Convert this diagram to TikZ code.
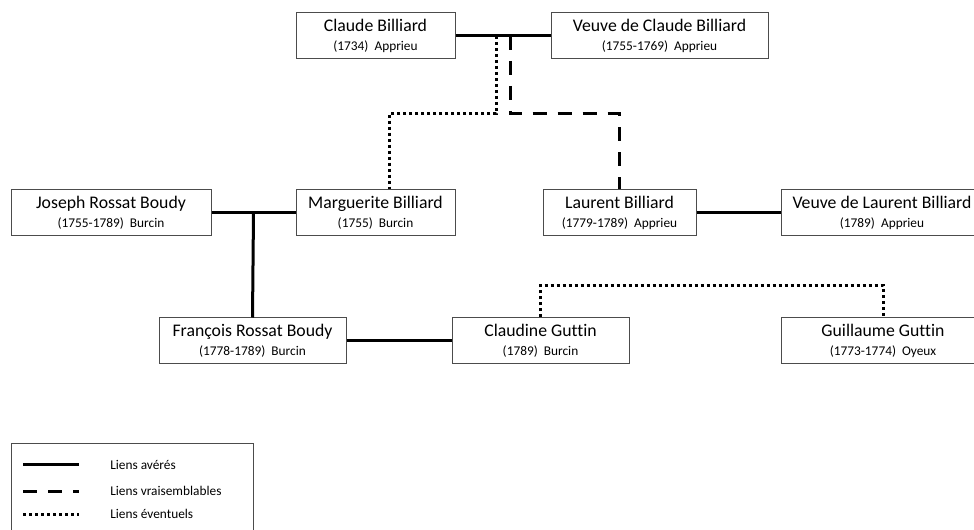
\documentclass[tikz,border=0pt]{standalone}
\usepackage{fontspec}
\setmainfont{Carlito}[Ligatures=NoCommon]
\usetikzlibrary{calc}
\tikzset{
	pers/.style={draw=black!70,line width=.75pt,minimum height=34.5pt,inner sep=0pt,align=center,
		font=\fontsize{13.3}{15}\selectfont},
	avere/.style={line width=2.25pt},
	vraisemblable/.style={line width=2.25pt,dash pattern=on 10.5pt off 8.25pt},
	eventuel/.style={line width=2.25pt,dash pattern=on 2.25pt off 2.25pt},
	legende/.style={anchor=west,inner sep=0pt,font=\fontsize{10}{12}\selectfont}
}
\begin{document}
\begin{tikzpicture}[x=.75pt,y=-.75pt]
	\useasboundingbox (0,0) rectangle (974,530);
	% les personnes
	\foreach \n/\cx/\cy/\w/\nom/\dat in {
		cb/375.5/36/159/Claude Billiard/(1734)~~Apprieu,
		vcb/659.5/36/217/Veuve de Claude Billiard/(1755-1769)~~Apprieu,
		jrb/111/213/200/Joseph Rossat Boudy/(1755-1789)~~Burcin,
		mb/375.5/213/159/Marguerite Billiard/(1755)~~Burcin,
		lb/619.5/213/153/Laurent Billiard/(1779-1789)~~Apprieu,
		vlb/882/213/202/Veuve de Laurent Billiard/(1789)~~Apprieu,
		frb/252.5/341/187/François Rossat Boudy/(1778-1789)~~Burcin,
		cg/540.5/341/177/Claudine Guttin/(1789)~~Burcin,
		gg/883/341/204/Guillaume Guttin/(1773-1774)~~Oyeux}{
		\node[pers,minimum width=\w*.75pt] (\n) at (\cx,\cy) {\nom\\[-.5pt]{\fontsize{10}{12}\selectfont\dat}};
	}
	% les liens
	\draw[avere] (cb)--(vcb) (jrb)--(mb) (lb)--(vlb) (frb)--(cg);
	\path ($(cb.east)!.43!(vcb.west)$) coordinate (u1)
		($(cb.east)!.58!(vcb.west)$) coordinate (u2)
		($(jrb.east)!.5!(mb.west)$) coordinate (u3);
	\draw[avere] (u3)--(frb.north);
	\draw[eventuel] (u1)--++(0,78) -| ([xshift=10.125pt]mb.north);
	\draw[vraisemblable] (u2)--++(0,78) -| (lb.north);
	\draw[eventuel] (cg.north)--++(0,-32) -| (gg.north);
	% legende
	\draw[black!70,line width=.75pt] (11,540)--(11,444)--(253,444)--(253,540);
	\foreach \k/\yy/\st/\t in {1/465/avere/Liens avérés,2/491/vraisemblable/Liens vraisemblables,3/514/eventuel/Liens éventuels}{
		\path (23,\yy) coordinate (l\k a) (79,\yy) coordinate (l\k b);
		\draw[\st] (l\k a)--(l\k b);
		\node[legende] (t\k) at (110,\yy) {\t};
	}
\end{tikzpicture}
\end{document}
